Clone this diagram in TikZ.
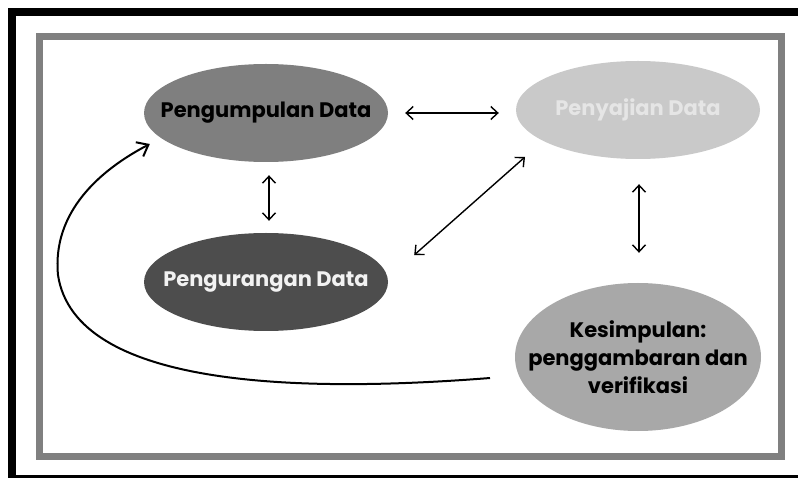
\documentclass[tikz,border=0pt]{standalone}
\usepackage{fontspec}
\setmainfont{Poppins}
\usepackage{tikz}
\usetikzlibrary{shapes.geometric,arrows.meta,positioning,calc}
\usepackage{xcolor}

\definecolor{abuTua}{HTML}{4D4D4D}
\definecolor{abuSedang}{HTML}{7F7F7F}
\definecolor{abuMuda}{HTML}{C9C9C9}
\definecolor{abuKes}{HTML}{A8A8A8}
\definecolor{bingkai}{HTML}{808080}

\tikzset{
    tahap/.style={ellipse, inner sep=0pt, minimum width=244pt, minimum height=98pt},
    teks/.style={inner sep=0pt, font=\fontsize{21}{28}\selectfont\bfseries, align=center},
    panah/.style={line width=1.4pt, {Straight Barb[length=7pt,width=13pt]}-{Straight Barb[length=7pt,width=13pt]}},
}

\begin{document}
\begin{tikzpicture}[x=1pt, y=-1pt]
    \useasboundingbox (0,0) rectangle (798,478);
    \clip (0,0) rectangle (798,478);
    \fill[white] (0,0) rectangle (798,478);

    % Bingkai
    \draw[line width=8pt, black] (806,12) -- (12,12) -- (12,479) -- (806,479);
    \draw[line width=7pt, bingkai] (39.5,36.5) rectangle (781.5,456.5);

    % Tahapan
    \node[tahap, fill=abuSedang] (kumpul) at (266,113) {};
    \node[tahap, fill=abuMuda] (saji) at (638,110) {};
    \node[tahap, fill=abuTua] (kurang) at (266,282) {};
    \node[tahap, fill=abuKes, minimum width=246pt, minimum height=148pt] (simpul) at (638,357) {};

    \node[teks, text=black] (kumpul-t) at (kumpul) {Pengumpulan Data};
    \node[teks, text=white!90!black] (saji-t) at (saji) {Penyajian Data};
    \node[teks, text=white!95!black] (kurang-t) at (kurang) {Pengurangan Data};
    \node[teks, text=black] (simpul-t) at (simpul) {Kesimpulan:\\penggambaran dan\\verifikasi};

    % Panah dua arah
    \draw[panah] ($(kumpul.east)+(17,0)$) -- ($(saji.west)+(-17,3)$);
    \draw[panah] ($(kumpul.south)+(3,13)$) -- ($(kurang.north)+(3,-12)$);
    \draw[panah] ($(kurang.east)+(26,-27)$) -- ($(saji.center)+(-113,47)$);
    \draw[panah] ($(saji.south)+(1,25)$) -- ($(simpul.north)+(1,-30)$);

    % Panah balik
    \coordinate (awal) at (490,378);
    \draw[line width=2pt, -{Straight Barb[length=10pt,width=16pt]}] (awal)
        .. controls (300,393) and (75,388) .. (58,275)
        .. controls (52,212) and (100,170) .. ($(kumpul.west)+(6,31)$);
\end{tikzpicture}
\end{document}
